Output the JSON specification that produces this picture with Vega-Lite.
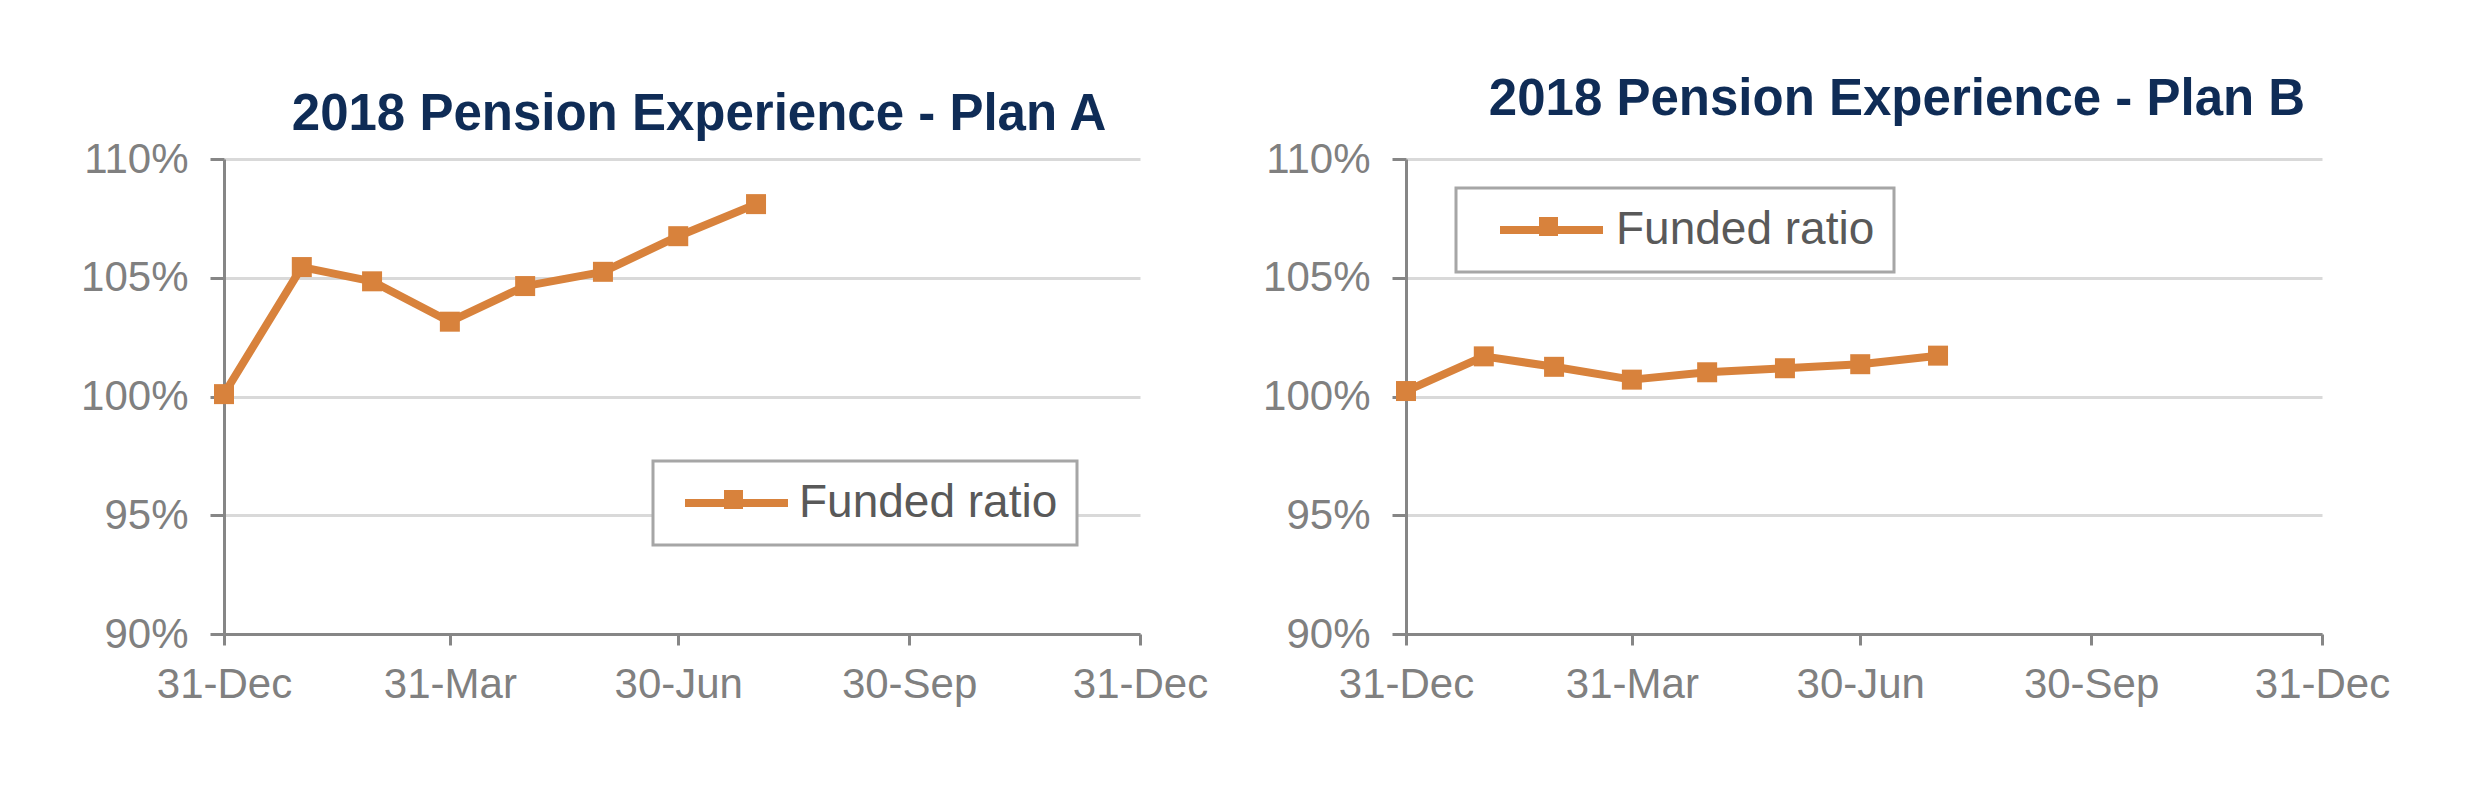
{
  "$schema": "https://vega.github.io/schema/vega-lite/v6.json",
  "background": "white",
  "padding": {"left": 80, "top": 74, "right": 10, "bottom": 10},
  "spacing": 266,
  "bounds": "flush",
  "datasets": {
    "planA": [
      {"date": "2017-12-31", "ratio": 1.001, "series": "Funded ratio"},
      {"date": "2018-01-31", "ratio": 1.0545, "series": "Funded ratio"},
      {"date": "2018-02-28", "ratio": 1.0485, "series": "Funded ratio"},
      {"date": "2018-03-31", "ratio": 1.0315, "series": "Funded ratio"},
      {"date": "2018-04-30", "ratio": 1.0465, "series": "Funded ratio"},
      {"date": "2018-05-31", "ratio": 1.0525, "series": "Funded ratio"},
      {"date": "2018-06-30", "ratio": 1.0675, "series": "Funded ratio"},
      {"date": "2018-07-31", "ratio": 1.081, "series": "Funded ratio"}
    ],
    "planB": [
      {"date": "2017-12-31", "ratio": 1.0023, "series": "Funded ratio"},
      {"date": "2018-01-31", "ratio": 1.0169, "series": "Funded ratio"},
      {"date": "2018-02-28", "ratio": 1.0125, "series": "Funded ratio"},
      {"date": "2018-03-31", "ratio": 1.0071, "series": "Funded ratio"},
      {"date": "2018-04-30", "ratio": 1.0102, "series": "Funded ratio"},
      {"date": "2018-05-31", "ratio": 1.0119, "series": "Funded ratio"},
      {"date": "2018-06-30", "ratio": 1.0136, "series": "Funded ratio"},
      {"date": "2018-07-31", "ratio": 1.0172, "series": "Funded ratio"}
    ]
  },
  "config": {
    "view": {"stroke": null},
    "font": "Liberation Sans",
    "axis": {
      "labelFont": "Liberation Sans",
      "labelFontSize": 42,
      "labelColor": "#808080",
      "domainColor": "#868686",
      "domainWidth": 3,
      "tickColor": "#868686",
      "tickWidth": 3,
      "gridColor": "#D9D9D9",
      "gridWidth": 3,
      "title": null
    },
    "axisX": {"tickSize": 11, "labelPadding": 19, "grid": false, "labelFlush": false, "labelOverlap": false},
    "axisY": {"tickSize": 14, "labelPadding": 22, "grid": true, "labelOverlap": false},
    "title": {"font": "Liberation Sans", "fontSize": 51, "fontWeight": "bold", "color": "#0F2C56"},
    "legend": {
      "orient": "none",
      "padding": 19,
      "strokeColor": "#A6A6A6",
      "strokeWidth": 3,
      "fillColor": "white",
      "labelFont": "Liberation Sans",
      "labelFontSize": 46,
      "labelColor": "#595959",
      "labelLimit": 0,
      "symbolType": "M-1,-0.4H2.9V-1.3H4.8V-0.4H9.3V0.4H4.8V0.6H2.9V0.4H-1Z",
      "symbolSize": 400,
      "symbolStrokeWidth": 0,
      "symbolFillColor": "#D8823C",
      "symbolOffset": 0,
      "labelOffset": 81
    }
  },
  "resolve": {"scale": {"color": "independent"}, "legend": {"color": "independent"}},
  "hconcat": [
    {
      "title": {"text": "2018 Pension Experience - Plan A", "offset": -3, "dx": 17},
      "width": 916,
      "height": 475,
      "data": {"name": "planA"},
      "mark": {"type": "line", "strokeWidth": 8, "strokeJoin": "round", "point": {"shape": "square", "size": 400, "filled": true, "opacity": 1}},
      "encoding": {
        "x": {
          "field": "date", "type": "temporal",
          "scale": {"type": "utc", "domain": [{"year": 2017, "month": 12, "date": 31, "utc": true}, {"year": 2018, "month": 12, "date": 31, "utc": true}]},
          "axis": {
            "values": [
              {"year": 2017, "month": 12, "date": 31, "utc": true},
              {"year": 2018, "month": 3, "date": 31, "utc": true},
              {"year": 2018, "month": 6, "date": 30, "utc": true},
              {"year": 2018, "month": 9, "date": 30, "utc": true},
              {"year": 2018, "month": 12, "date": 31, "utc": true}
            ],
            "labelExpr": "utcFormat(datum.value, '%d-%b')"
          }
        },
        "y": {
          "field": "ratio", "type": "quantitative",
          "scale": {"domain": [0.9, 1.1], "nice": false, "zero": false},
          "axis": {"values": [0.9, 0.95, 1.0, 1.05, 1.1], "format": ".0%"}
        },
        "color": {
          "field": "series", "type": "nominal",
          "scale": {"range": ["#D8823C"]},
          "legend": {"title": null, "legendX": 429, "legendY": 302,
            "encode": {"symbols": {"update": {"fill": {"value": "#D8823C"}, "strokeWidth": {"value": 0}}}}}
        }
      }
    },
    {
      "title": {"text": "2018 Pension Experience - Plan B", "offset": 12, "dx": 33},
      "width": 916,
      "height": 475,
      "data": {"name": "planB"},
      "mark": {"type": "line", "strokeWidth": 8, "strokeJoin": "round", "point": {"shape": "square", "size": 400, "filled": true, "opacity": 1}},
      "encoding": {
        "x": {
          "field": "date", "type": "temporal",
          "scale": {"type": "utc", "domain": [{"year": 2017, "month": 12, "date": 31, "utc": true}, {"year": 2018, "month": 12, "date": 31, "utc": true}]},
          "axis": {
            "values": [
              {"year": 2017, "month": 12, "date": 31, "utc": true},
              {"year": 2018, "month": 3, "date": 31, "utc": true},
              {"year": 2018, "month": 6, "date": 30, "utc": true},
              {"year": 2018, "month": 9, "date": 30, "utc": true},
              {"year": 2018, "month": 12, "date": 31, "utc": true}
            ],
            "labelExpr": "utcFormat(datum.value, '%d-%b')"
          }
        },
        "y": {
          "field": "ratio", "type": "quantitative",
          "scale": {"domain": [0.9, 1.1], "nice": false, "zero": false},
          "axis": {"values": [0.9, 0.95, 1.0, 1.05, 1.1], "format": ".0%"}
        },
        "color": {
          "field": "series", "type": "nominal",
          "scale": {"range": ["#D8823C"]},
          "legend": {"title": null, "legendX": 50, "legendY": 29, "symbolOffset": 12, "labelOffset": 83,
            "encode": {"symbols": {"update": {"fill": {"value": "#D8823C"}, "strokeWidth": {"value": 0}}}}}
        }
      }
    }
  ]
}
